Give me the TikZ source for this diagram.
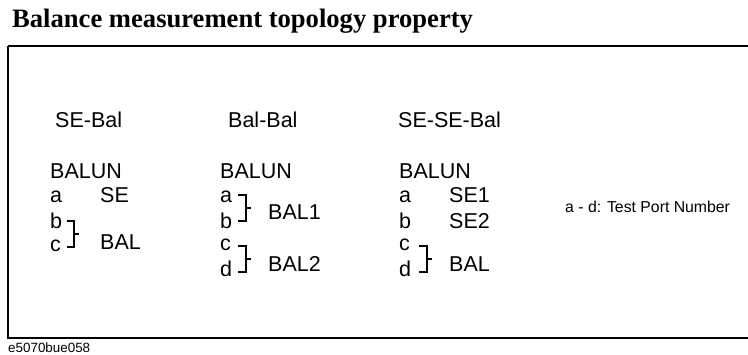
\documentclass[tikz,border=0pt]{standalone}
\usepackage{fontspec}
\setmainfont{Liberation Sans}
\newfontfamily\titlefont{Liberation Serif}
\usetikzlibrary{positioning}

\begin{document}
\begin{tikzpicture}[x=1pt,y=-1pt,
                    every node/.style={anchor=base west,inner sep=0pt,
                                       font=\fontsize{21.5}{24}\selectfont},
                    brk/.style={line width=1.4pt}]
   \useasboundingbox (0,0) rectangle (748,354);
   \node[font=\titlefont\bfseries\fontsize{26.6}{30}\selectfont] (title) at (12,27.5)
        {Balance measurement topology property};
   \node[font=\fontsize{13.4}{15}\selectfont] (figid) at (8,352) {e5070bue058};
   \draw[line width=2.5pt] (8,46) -- (760,46);
   \draw[line width=2.5pt] (8,46) -- (8,338) -- (760,338);
   % SE-Bal
   \node (hdA)    at (55,127)  {SE-Bal};
   \node (balunA) at (50,178)  {BALUN};
   \node (aA)     at (50,202)  {a};
   \node (bA)     at (50,228)  {b};
   \node (cA)     at (50,251)  {c};
   \node (seA)    at (100,202) {SE};
   \node (balA)   at (100,249) {BAL};
   \draw[brk] (67,221) -- (74,221) -- (74,247) -- (67,247);
   \draw[brk] (74,234) -- (79,234);
   % Bal-Bal
   \node (hdB)    at (228,127) {Bal-Bal};
   \node (balunB) at (220,178) {BALUN};
   \node (aB)     at (220,202) {a};
   \node (bB)     at (220,228) {b};
   \node (cB)     at (220,250) {c};
   \node (dB)     at (220,276) {d};
   \node (bal1B)  at (268,219) {BAL1};
   \node (bal2B)  at (268,271) {BAL2};
   \draw[brk] (238,195) -- (246,195) -- (246,221) -- (238,221);
   \draw[brk] (246,208) -- (251,208);
   \draw[brk] (238,246) -- (246,246) -- (246,272) -- (238,272);
   \draw[brk] (246,259) -- (251,259);
   % SE-SE-Bal
   \node (hdC)    at (398,127) {SE-SE-Bal};
   \node (balunC) at (399,178) {BALUN};
   \node (aC)     at (399,202) {a};
   \node (bC)     at (399,228) {b};
   \node (cC)     at (399,250) {c};
   \node (dC)     at (399,276) {d};
   \node (se1C)   at (449,202) {SE1};
   \node (se2C)   at (449,228) {SE2};
   \node (balC)   at (449,271) {BAL};
   \draw[brk] (419,246) -- (427,246) -- (427,272) -- (419,272);
   \draw[brk] (427,259) -- (432,259);
   \node[font=\fontsize{15.8}{18}\selectfont] (note) at (565,212) {a - d: Test Port Number};
\end{tikzpicture}
\end{document}
